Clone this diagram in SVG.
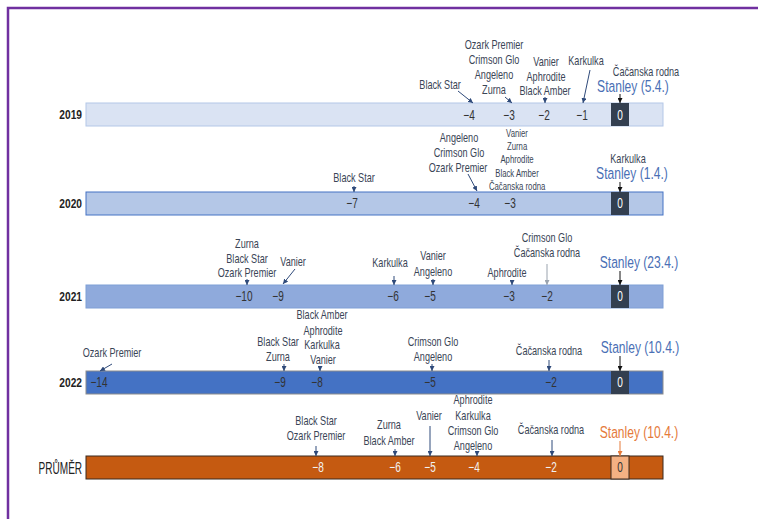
<svg xmlns="http://www.w3.org/2000/svg" width="758" height="519" viewBox="0 0 758 519">
<style>
text{font-family:"Liberation Sans Narrow","Liberation Sans",Arial,sans-serif}
.l,.s,.v,.w,.z,.st,.sto{transform-box:fill-box;transform-origin:center}
.l{font-size:12px;fill:#3A4556;text-anchor:middle;transform:scaleX(.76)}
.s{font-size:10.5px;fill:#3A4556;text-anchor:middle;transform:scaleX(.74)}
.v,.w,.z{font-size:14px;text-anchor:middle;transform:scaleX(.72)}
.v{fill:#333}
.w{fill:#F2F2F2}
.z{fill:#FFFFFF}
.yr{font-size:12px;font-weight:bold;fill:#222;text-anchor:end;transform-box:fill-box;transform-origin:right center;transform:scaleX(.85)}
.pr{font-size:16px;fill:#222;text-anchor:end;transform-box:fill-box;transform-origin:right center;transform:scaleX(.63)}
.st,.sto{font-size:17px;text-anchor:middle;transform:scaleX(.71)}
.st{fill:#4A6FB5}
.sto{fill:#E57A3A}
.a{stroke:#2F4A7A;stroke-width:1;fill:none;marker-end:url(#mb)}
.k{stroke:#111;stroke-width:1;fill:none;marker-end:url(#mk)}
.g{stroke:#9AA3AE;stroke-width:1;fill:none;marker-end:url(#mg)}
.o{stroke:#E57A3A;stroke-width:1;fill:none;marker-end:url(#mo)}
.zero{fill:#333F50}
</style>
<defs>
<marker id="mb" viewBox="0 0 6 6" refX="6" refY="3" markerWidth="5" markerHeight="5" markerUnits="userSpaceOnUse" orient="auto"><path d="M0,0L6,3L0,6z" fill="#2F4A7A"/></marker>
<marker id="mk" viewBox="0 0 6 6" refX="6" refY="3" markerWidth="5" markerHeight="5" markerUnits="userSpaceOnUse" orient="auto"><path d="M0,0L6,3L0,6z" fill="#111"/></marker>
<marker id="mg" viewBox="0 0 6 6" refX="6" refY="3" markerWidth="5" markerHeight="5" markerUnits="userSpaceOnUse" orient="auto"><path d="M0,0L6,3L0,6z" fill="#9AA3AE"/></marker>
<marker id="mo" viewBox="0 0 6 6" refX="6" refY="3" markerWidth="5" markerHeight="5" markerUnits="userSpaceOnUse" orient="auto"><path d="M0,0L6,3L0,6z" fill="#E57A3A"/></marker>
</defs>
<rect width="758" height="519" fill="#fff"/>
<path d="M8,519V8H758" fill="none" stroke="#7030A0" stroke-width="2.5"/>

<g id="row2019">
<text class="yr" x="82" y="119">2019</text>
<rect x="86" y="103" width="577" height="23" fill="#DAE3F3" stroke="#B4C7E7"/>
<rect class="zero" x="611" y="103" width="18" height="23"/>
<text class="v" x="469" y="120">−4</text>
<text class="v" x="509" y="120">−3</text>
<text class="v" x="544" y="120">−2</text>
<text class="v" x="582" y="120">−1</text>
<text class="z" x="620" y="120">0</text>
<text class="l" x="440" y="89">Black Star</text>
<text class="l" x="494" y="49">Ozark Premier</text>
<text class="l" x="494" y="64">Crimson Glo</text>
<text class="l" x="494" y="79">Angeleno</text>
<text class="l" x="494" y="94">Zurna</text>
<text class="l" x="546" y="66">Vanier</text>
<text class="l" x="546" y="81">Aphrodite</text>
<text class="l" x="545" y="95">Black Amber</text>
<text class="l" x="586" y="65">Karkulka</text>
<text class="l" x="646" y="76">Čačanska rodna</text>
<text class="st" x="633" y="92">Stanley (5.4.)</text>
</g>

<g id="row2020">
<text class="yr" x="82" y="208">2020</text>
<rect x="86" y="192" width="577" height="23" fill="#B4C7E7" stroke="#4472C4"/>
<rect class="zero" x="611" y="192" width="18" height="23"/>
<text class="v" x="352" y="208">−7</text>
<text class="v" x="474" y="208">−4</text>
<text class="v" x="510" y="208">−3</text>
<text class="z" x="620" y="208">0</text>
<text class="l" x="354" y="182">Black Star</text>
<text class="l" x="459" y="142">Angeleno</text>
<text class="l" x="459" y="157">Crimson Glo</text>
<text class="l" x="458" y="172">Ozark Premier</text>
<text class="s" x="517" y="137">Vanier</text>
<text class="s" x="517" y="150">Zurna</text>
<text class="s" x="517" y="163">Aphrodite</text>
<text class="s" x="517" y="177">Black Amber</text>
<text class="s" x="517" y="190">Čačanska rodna</text>
<text class="l" x="628" y="163">Karkulka</text>
<text class="st" x="632" y="179">Stanley (1.4.)</text>
</g>

<g id="row2021">
<text class="yr" x="82" y="301">2021</text>
<rect x="86" y="285" width="577" height="23" fill="#8FAADC" stroke="#7F9FD6"/>
<rect class="zero" x="611" y="285" width="18" height="23"/>
<text class="v" x="244" y="301">−10</text>
<text class="v" x="278" y="301">−9</text>
<text class="v" x="393" y="301">−6</text>
<text class="v" x="430" y="301">−5</text>
<text class="v" x="509" y="301">−3</text>
<text class="v" x="547" y="301">−2</text>
<text class="z" x="620" y="301">0</text>
<text class="l" x="247" y="248">Zurna</text>
<text class="l" x="247" y="263">Black Star</text>
<text class="l" x="247" y="277">Ozark Premier</text>
<text class="l" x="293" y="266">Vanier</text>
<text class="l" x="390" y="267">Karkulka</text>
<text class="l" x="433" y="260">Vanier</text>
<text class="l" x="433" y="276">Angeleno</text>
<text class="l" x="507" y="277">Aphrodite</text>
<text class="l" x="547" y="242">Crimson Glo</text>
<text class="l" x="547" y="257">Čačanska rodna</text>
<text class="st" x="639" y="268">Stanley (23.4.)</text>
</g>

<g id="row2022">
<text class="yr" x="82" y="387">2022</text>
<rect x="86" y="371" width="577" height="23" fill="#4472C4" stroke="#8C8C8C"/>
<rect class="zero" x="611" y="371" width="18" height="23"/>
<text class="v" x="99" y="387">−14</text>
<text class="v" x="280" y="387">−9</text>
<text class="v" x="317" y="387">−8</text>
<text class="v" x="430" y="387">−5</text>
<text class="v" x="551" y="387">−2</text>
<text class="z" x="620" y="387">0</text>
<text class="l" x="112" y="357">Ozark Premier</text>
<text class="l" x="278" y="346">Black Star</text>
<text class="l" x="278" y="361">Zurna</text>
<text class="l" x="322" y="319">Black Amber</text>
<text class="l" x="323" y="335">Aphrodite</text>
<text class="l" x="322" y="349">Karkulka</text>
<text class="l" x="323" y="364">Vanier</text>
<text class="l" x="433" y="346">Crimson Glo</text>
<text class="l" x="433" y="361">Angeleno</text>
<text class="l" x="549" y="355">Čačanska rodna</text>
<text class="st" x="640" y="353">Stanley (10.4.)</text>
</g>

<g id="rowAvg">
<text class="pr" x="82" y="474">PRŮMĚR</text>
<rect x="86" y="456" width="577" height="23" fill="#C55A11" stroke="#3A2A20"/>
<rect x="611" y="456" width="18" height="23" fill="#F4B183" stroke="#3A2A20"/>
<text class="w" x="318" y="472">−8</text>
<text class="w" x="395" y="472">−6</text>
<text class="w" x="430" y="472">−5</text>
<text class="w" x="474" y="472">−4</text>
<text class="w" x="551" y="472">−2</text>
<text class="v" x="620" y="472">0</text>
<text class="l" x="316" y="425">Black Star</text>
<text class="l" x="316" y="440">Ozark Premier</text>
<text class="l" x="389" y="429">Zurna</text>
<text class="l" x="389" y="445">Black Amber</text>
<text class="l" x="429" y="420">Vanier</text>
<text class="l" x="473" y="404">Aphrodite</text>
<text class="l" x="473" y="420">Karkulka</text>
<text class="l" x="473" y="435">Crimson Glo</text>
<text class="l" x="473" y="450">Angeleno</text>
<text class="l" x="551" y="434">Čačanska rodna</text>
<text class="sto" x="639" y="438">Stanley (10.4.)</text>
</g>

<g id="connectors">
<path class="a" d="M458,91L473,103"/>
<path class="a" d="M505,97L512,103"/>
<path class="a" d="M545,97L545,103"/>
<path class="a" d="M590,70L583,103"/>
<path class="k" d="M620,94L620,103"/>
<path class="a" d="M354,186L354,192"/>
<path class="a" d="M468,174L477,191"/>
<path class="k" d="M620,182L620,192"/>
<path class="a" d="M247,279L247,285"/>
<path class="a" d="M295,269L283,284"/>
<path class="a" d="M394,276L394,285"/>
<path class="a" d="M433,279L433,285"/>
<path class="a" d="M512,280L512,285"/>
<path class="g" d="M547,264L547,285"/>
<path class="k" d="M620,271L620,285"/>
<path class="a" d="M112,364L100,371"/>
<path class="a" d="M284,364L284,371"/>
<path class="a" d="M320,366L320,371"/>
<path class="a" d="M432,364L432,371"/>
<path class="a" d="M549,360L549,371"/>
<path class="k" d="M620,356L620,371"/>
<path class="a" d="M316,446L316,456"/>
<path class="a" d="M395,449L395,456"/>
<path class="a" d="M430,426L430,456"/>
<path class="a" d="M477,451L477,456"/>
<path class="a" d="M552,440L552,456"/>
<path class="o" d="M620,441L620,456"/>
</g>
</svg>
